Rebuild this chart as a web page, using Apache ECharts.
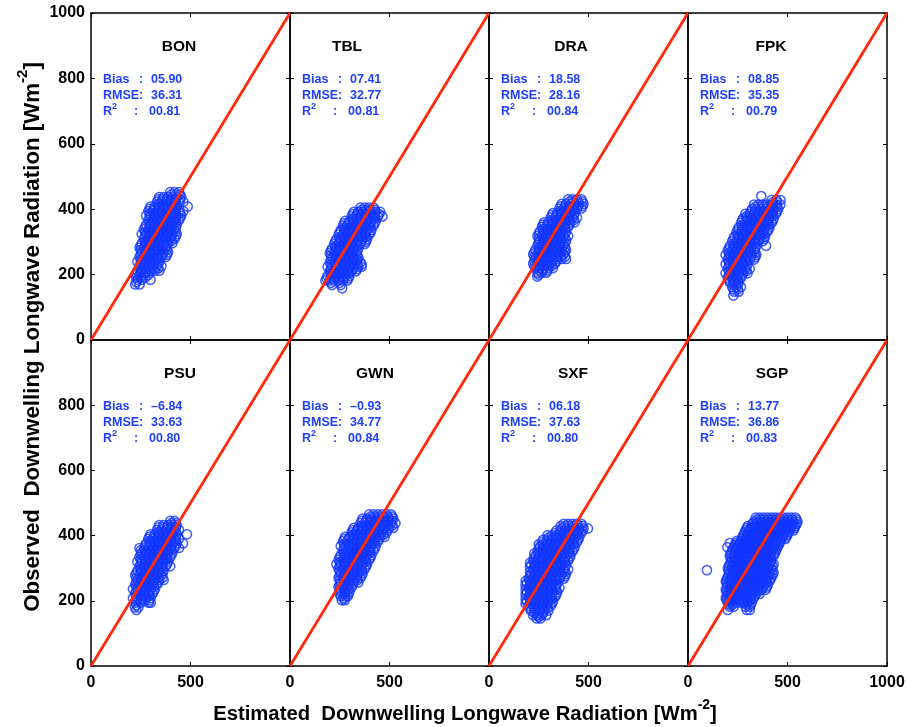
<!DOCTYPE html>
<html>
<head>
<meta charset="utf-8">
<script src="https://cdn.jsdelivr.net/npm/echarts@6/dist/echarts.min.js"></script>
<style>
  html, body { margin: 0; padding: 0; background: #fff; }
  #chart { width: 908px; height: 727px; }
</style>
</head>
<body>
<div id="chart"></div>
<script>
// ---- station statistics ----
const stations = ['BON', 'TBL', 'DRA', 'FPK', 'PSU', 'GWN', 'SXF', 'SGP'];
const bias = [5.90, 7.41, 18.58, 8.85, -6.84, -0.93, 6.18, 13.77];
const rmse = [36.31, 32.77, 28.16, 35.35, 33.63, 34.77, 37.63, 36.86];
const r2   = [0.81, 0.81, 0.84, 0.79, 0.80, 0.84, 0.80, 0.83];

// ---- axis ticks ----
const xTicks = [0, 500, 1000];
const yTicks = [0, 200, 400, 600, 800, 1000];

// 1:1 reference line
const oneToOne = [[0, 0], [1000, 1000]];

// ---- scatter samples: each row is [observed, estimated, estimated, ...] ----
const bonRows = [
  [452, 398, 420, 442], [445, 404, 426, 448],
  [437, 343, 365, 387, 409, 431, 453], [430, 338, 360, 382, 404, 426, 448],
  [423, 332, 354, 376, 398, 420, 442, 464], [416, 338, 360, 382, 404, 426],
  [408, 299, 321, 343, 365, 387, 409, 431, 486], [401, 294, 316, 338, 360, 382, 404, 426],
  [394, 288, 310, 332, 354, 376, 398, 420, 442, 464], [387, 294, 316, 338, 360, 382, 404, 426, 448],
  [380, 277, 299, 321, 343, 365, 387, 409, 431, 453], [373, 294, 316, 338, 360, 382, 404, 426, 448],
  [366, 288, 310, 332, 354, 376, 398, 420, 442], [359, 294, 316, 338, 360, 382, 404, 426],
  [352, 277, 299, 321, 343, 365, 387, 409, 431], [345, 272, 294, 316, 338, 360, 382, 404, 426],
  [338, 266, 288, 310, 332, 354, 376, 398, 420], [331, 272, 294, 316, 338, 360, 382, 404, 426],
  [324, 255, 277, 299, 321, 343, 365, 387, 409, 431], [317, 272, 294, 316, 338, 360, 382, 404, 426],
  [310, 266, 288, 310, 332, 354, 376, 398, 420], [303, 272, 294, 316, 338, 360, 382, 404],
  [296, 255, 277, 299, 321, 343, 365, 387, 409], [289, 250, 272, 294, 316, 338, 360, 382],
  [282, 244, 266, 288, 310, 332, 354, 376], [275, 250, 272, 294, 316, 338, 360, 382],
  [268, 255, 277, 299, 321, 343, 365, 387], [261, 250, 272, 294, 316, 338, 360, 382],
  [254, 244, 266, 288, 310, 332, 354, 376], [247, 250, 272, 294, 316, 338],
  [240, 233, 255, 277, 299, 321, 343], [233, 250, 272, 294, 316, 338],
  [226, 244, 266, 288, 310, 332, 354], [219, 250, 272, 294, 316, 338],
  [212, 233, 255, 277, 299, 321, 343], [205, 228, 250, 272, 294],
  [198, 222, 244, 266, 288], [191, 228, 250, 272],
  [184, 233, 255, 299], [177, 228],
  [170, 222, 244]
];
const tblRows = [
  [405, 354, 376, 398, 420], [398, 360, 382, 404, 426],
  [392, 321, 343, 365, 387, 409, 431, 453], [385, 316, 338, 360, 382, 404, 426, 448],
  [378, 310, 332, 354, 376, 398, 420, 442, 464], [371, 316, 338, 360, 382, 404, 426],
  [364, 277, 299, 321, 343, 365, 387, 409, 431], [357, 272, 294, 316, 338, 360, 382, 404, 426],
  [350, 266, 288, 310, 332, 354, 376, 398, 420], [343, 272, 294, 316, 338, 360, 382, 404],
  [336, 255, 277, 299, 321, 343, 365, 387, 409], [329, 250, 272, 294, 316, 338, 360, 382, 404],
  [322, 244, 266, 288, 310, 332, 354, 376, 398], [315, 250, 272, 294, 316, 338, 360, 382],
  [308, 233, 255, 277, 299, 321, 343, 365, 387], [301, 228, 250, 272, 294, 316, 338, 360, 382],
  [294, 222, 244, 266, 288, 310, 332, 354, 376], [287, 228, 250, 272, 294, 316, 338],
  [280, 211, 233, 255, 277, 299, 321, 343], [273, 206, 228, 250, 272, 294, 316, 338],
  [266, 200, 222, 244, 266, 288, 310, 332], [259, 206, 228, 250, 272, 294, 316, 338],
  [252, 211, 233, 255, 277, 299, 321, 343], [245, 206, 228, 250, 272, 294, 316, 338],
  [238, 200, 222, 244, 266, 288, 310, 332, 354], [231, 206, 228, 250, 272, 294, 316, 338, 360],
  [224, 189, 211, 233, 255, 277, 299, 321, 343, 360], [217, 206, 228, 250, 272, 294, 316, 338],
  [210, 200, 222, 244, 266, 288, 310, 332], [203, 206, 228, 250, 272, 294],
  [196, 189, 211, 233, 255, 277, 299], [189, 184, 206, 228, 250, 272, 294],
  [182, 178, 200, 222, 244, 266, 288], [175, 206, 250],
  [168, 211, 255], [158, 262]
];
const draRows = [
  [430, 398, 420, 442, 464], [423, 404, 426, 448, 470],
  [416, 365, 387, 409, 431, 453, 475], [409, 360, 382, 404, 426, 448, 470],
  [402, 354, 376, 398, 420, 442, 464], [395, 360, 382, 404, 426],
  [388, 321, 343, 365, 387, 409, 431], [381, 316, 338, 360, 382, 404, 426],
  [374, 310, 332, 354, 376, 398, 420, 442], [367, 316, 338, 360, 382, 404, 426],
  [360, 277, 299, 321, 343, 365, 387, 409, 431], [353, 272, 294, 316, 338, 360, 382, 404],
  [346, 266, 288, 310, 332, 354, 376, 398], [339, 272, 294, 316, 338, 360, 382],
  [332, 255, 277, 299, 321, 343, 365, 387], [325, 250, 272, 294, 316, 338, 360, 382],
  [318, 244, 266, 288, 310, 332, 354, 376, 398], [311, 250, 272, 294, 316, 338, 360, 382],
  [304, 255, 277, 299, 321, 343, 365, 387], [297, 250, 272, 294, 316, 338, 360, 382],
  [290, 244, 266, 288, 310, 332, 354, 376], [283, 250, 272, 294, 316, 338, 360, 382],
  [276, 233, 255, 277, 299, 321, 343, 365, 387], [269, 228, 250, 272, 294, 316, 338, 360, 382],
  [262, 222, 244, 266, 288, 310, 332, 354, 376], [255, 228, 250, 272, 294, 316, 338, 360, 382],
  [248, 233, 255, 277, 299, 321, 343, 365, 387], [241, 228, 250, 272, 294, 316, 338],
  [234, 222, 244, 266, 288, 310, 332], [227, 228, 250, 272, 294, 316],
  [220, 233, 255, 277, 299, 321], [213, 250, 272, 294],
  [206, 244, 266, 288], [200, 250],
  [194, 243]
];
const fpkRows = [
  [440, 368],
  [428, 420, 445, 465], [421, 426, 448],
  [414, 332, 354, 376, 398, 420, 442, 464], [407, 338, 360, 382, 404, 426, 448],
  [400, 321, 343, 365, 387, 409, 431, 453], [393, 316, 338, 360, 382, 404, 426, 448],
  [386, 288, 310, 332, 354, 376, 398, 420, 442], [379, 294, 316, 338, 360, 382, 404, 426],
  [372, 277, 299, 321, 343, 365, 387, 409, 431], [365, 272, 294, 316, 338, 360, 382, 404, 426],
  [358, 266, 288, 310, 332, 354, 376, 398, 420], [351, 272, 294, 316, 338, 360, 382, 404],
  [344, 255, 277, 299, 321, 343, 365, 387, 409], [337, 250, 272, 294, 316, 338, 360, 382, 404],
  [330, 244, 266, 288, 310, 332, 354, 376, 398], [323, 250, 272, 294, 316, 338, 360, 382],
  [316, 233, 255, 277, 299, 321, 343, 365, 387], [309, 228, 250, 272, 294, 316, 338, 360, 382],
  [302, 222, 244, 266, 288, 310, 332, 354, 376], [295, 228, 250, 272, 294, 316, 338],
  [288, 211, 233, 255, 277, 299, 321, 343, 392], [281, 206, 228, 250, 272, 294, 316, 338],
  [274, 200, 222, 244, 266, 288, 310, 332], [267, 206, 228, 250, 272, 294, 316, 338],
  [260, 189, 211, 233, 255, 277, 299, 321, 343], [253, 206, 228, 250, 272, 294, 316, 338],
  [246, 200, 222, 244, 266, 288, 310, 332], [239, 206, 228, 250, 272, 294],
  [232, 189, 211, 233, 255, 277, 299], [225, 206, 228, 250, 272, 294],
  [218, 200, 222, 244, 266, 288, 310], [211, 206, 228, 250, 272, 294],
  [204, 189, 211, 233, 255, 277, 299], [197, 206, 228, 250, 272],
  [190, 200, 222, 244, 266], [183, 206, 228, 250],
  [176, 211, 233, 255], [169, 228, 250],
  [162, 222, 244, 266], [155, 228, 250],
  [148, 233, 255], [136, 228]
];
const psuRows = [
  [445, 398, 420], [438, 404, 426],
  [432, 343, 365, 387, 409, 431], [425, 338, 360, 382, 404, 426],
  [418, 332, 354, 376, 398, 420, 442], [411, 338, 360, 382, 404, 426],
  [404, 299, 321, 343, 365, 387, 409, 431, 482], [397, 294, 316, 338, 360, 382, 404, 426],
  [390, 288, 310, 332, 354, 376, 398, 420, 442], [383, 294, 316, 338, 360, 382, 404, 426],
  [376, 277, 299, 321, 343, 365, 387, 409, 431, 462], [369, 272, 294, 316, 338, 360, 382, 404, 426],
  [362, 244, 266, 288, 310, 332, 354, 376, 398, 420, 442], [355, 250, 272, 294, 316, 338, 360, 382, 404],
  [348, 255, 277, 299, 321, 343, 365, 387, 409], [341, 250, 272, 294, 316, 338, 360, 382, 404],
  [334, 244, 266, 288, 310, 332, 354, 376, 398], [327, 250, 272, 294, 316, 338, 360, 382],
  [320, 233, 255, 277, 299, 321, 343, 365, 387], [313, 250, 272, 294, 316, 338, 360, 382],
  [306, 244, 266, 288, 310, 332, 354, 376, 398], [299, 250, 272, 294, 316, 338, 360],
  [292, 233, 255, 277, 299, 321, 343, 365], [285, 228, 250, 272, 294, 316, 338, 360],
  [278, 222, 244, 266, 288, 310, 332, 354], [271, 228, 250, 272, 294, 316, 338, 360],
  [264, 233, 255, 277, 299, 321, 343, 365], [257, 228, 250, 272, 294, 316, 338],
  [250, 222, 244, 266, 288, 310, 332], [243, 228, 250, 272, 294, 316],
  [236, 211, 233, 255, 277, 299, 321], [229, 228, 250, 272, 294, 316],
  [222, 222, 244, 266, 288, 310], [215, 228, 250, 272, 294],
  [208, 211, 233, 255, 277, 299], [201, 228, 250, 272, 294],
  [194, 225, 250, 290, 300], [187, 228],
  [180, 220, 238], [172, 228]
];
const gwnRows = [
  [465, 398, 420, 442, 464, 486, 508], [458, 404, 426, 448, 470, 492, 514],
  [452, 365, 387, 409, 431, 453, 475, 497, 519], [445, 360, 382, 404, 426, 448, 470, 492, 514],
  [438, 354, 376, 398, 420, 442, 464, 486, 508, 530], [431, 360, 382, 404, 426, 448, 470, 492, 514],
  [424, 321, 343, 365, 387, 409, 431, 453, 475, 497, 519], [417, 316, 338, 360, 382, 404, 426, 448, 470, 492],
  [410, 310, 332, 354, 376, 398, 420, 442, 464, 486], [403, 316, 338, 360, 382, 404, 426, 448, 470],
  [396, 277, 299, 321, 343, 365, 387, 409, 431, 453, 475], [389, 272, 294, 316, 338, 360, 382, 404, 426, 448],
  [382, 266, 288, 310, 332, 354, 376, 398, 420, 442], [375, 272, 294, 316, 338, 360, 382, 404, 426],
  [368, 255, 277, 299, 321, 343, 365, 387, 409, 431], [361, 272, 294, 316, 338, 360, 382, 404, 426],
  [354, 266, 288, 310, 332, 354, 376, 398, 420], [347, 272, 294, 316, 338, 360, 382, 404],
  [340, 255, 277, 299, 321, 343, 365, 387, 409], [333, 250, 272, 294, 316, 338, 360, 382, 404],
  [326, 244, 266, 288, 310, 332, 354, 376, 398], [319, 250, 272, 294, 316, 338, 360, 382],
  [312, 233, 255, 277, 299, 321, 343, 365, 387], [305, 250, 272, 294, 316, 338, 360, 382],
  [298, 244, 266, 288, 310, 332, 354, 376], [291, 250, 272, 294, 316, 338, 360],
  [284, 255, 277, 299, 321, 343, 365], [277, 250, 272, 294, 316, 338, 360],
  [270, 244, 266, 288, 310, 332, 354], [263, 250, 272, 294, 316, 338],
  [256, 255, 277, 299, 321, 343], [249, 250, 272, 294, 316],
  [242, 244, 266, 288, 310], [235, 250, 272, 294],
  [228, 255, 277, 299], [221, 250, 272, 294],
  [214, 256, 278, 290], [208, 272],
  [202, 260, 275]
];
const sxfRows = [
  [436, 376, 398, 420, 442, 464], [429, 360, 382, 404, 426, 448, 470],
  [422, 365, 387, 409, 431, 453, 475, 497], [415, 338, 360, 382, 404, 426, 448, 470],
  [408, 332, 354, 376, 398, 420, 442, 464], [401, 294, 316, 338, 360, 382, 404, 426, 448],
  [394, 299, 321, 343, 365, 387, 409, 431, 453], [387, 272, 294, 316, 338, 360, 382, 404, 426, 448],
  [380, 266, 288, 310, 332, 354, 376, 398, 420, 442], [373, 250, 272, 294, 316, 338, 360, 382, 404, 426],
  [366, 255, 277, 299, 321, 343, 365, 387, 409, 431], [359, 250, 272, 294, 316, 338, 360, 382, 404, 426],
  [352, 244, 266, 288, 310, 332, 354, 376, 398, 420], [345, 228, 250, 272, 294, 316, 338, 360, 382, 404],
  [338, 233, 255, 277, 299, 321, 343, 365, 387, 409], [331, 228, 250, 272, 294, 316, 338, 360, 382, 404],
  [324, 222, 244, 266, 288, 310, 332, 354, 376, 398], [317, 206, 228, 250, 272, 294, 316, 338, 360, 382],
  [310, 211, 233, 255, 277, 299, 321, 343, 365, 387], [303, 206, 228, 250, 272, 294, 316, 338, 360, 382],
  [296, 222, 244, 266, 288, 310, 332, 354, 376, 398], [289, 206, 228, 250, 272, 294, 316, 338, 360, 382],
  [282, 211, 233, 255, 277, 299, 321, 343, 365, 387], [275, 206, 228, 250, 272, 294, 316, 338, 360, 382],
  [268, 200, 222, 244, 266, 288, 310, 332, 354, 376], [261, 184, 206, 228, 250, 272, 294, 316, 338],
  [254, 189, 211, 233, 255, 277, 299, 321, 343], [247, 184, 206, 228, 250, 272, 294, 316, 338],
  [240, 200, 222, 244, 266, 288, 310, 332, 354], [233, 184, 206, 228, 250, 272, 294, 316, 338],
  [226, 189, 211, 233, 255, 277, 299, 321, 343], [219, 184, 206, 228, 250, 272, 294, 316, 338],
  [212, 200, 222, 244, 266, 288, 310, 332], [205, 184, 206, 228, 250, 272, 294, 316],
  [198, 189, 211, 233, 255, 277, 299, 321], [191, 184, 206, 228, 250, 272, 294, 316],
  [184, 200, 222, 244, 266, 288, 310], [177, 206, 228, 250, 272, 294],
  [170, 211, 233, 255, 277, 299], [163, 228, 250, 272],
  [156, 222, 244, 266, 288], [151, 250],
  [146, 240, 258]
];
const sgpRows = [
  [455, 340, 360, 380, 400, 420, 440, 460, 480, 500, 520, 540],
  [449, 345, 365, 385, 405, 425, 445, 465, 485, 505, 525, 545],
  [442, 330, 350, 370, 390, 410, 430, 450, 470, 490, 510, 530, 550],
  [436, 325, 345, 365, 385, 405, 425, 445, 465, 485, 505, 525, 545],
  [429, 300, 320, 340, 360, 380, 400, 420, 440, 460, 480, 500, 520, 540],
  [423, 295, 315, 335, 355, 375, 395, 415, 435, 455, 475, 495, 515, 535],
  [416, 290, 310, 330, 350, 370, 390, 410, 430, 450, 470, 490, 510, 530],
  [410, 285, 305, 325, 345, 365, 385, 405, 425, 445, 465, 485, 505],
  [403, 280, 300, 320, 340, 360, 380, 400, 420, 440, 460, 480, 500],
  [397, 275, 295, 315, 335, 355, 375, 395, 415, 435, 455, 475, 495],
  [390, 270, 290, 310, 330, 350, 370, 390, 410, 430, 450, 470, 490],
  [384, 245, 265, 285, 305, 325, 345, 365, 385, 405, 425, 445, 465],
  [377, 210, 240, 260, 280, 300, 320, 340, 360, 380, 400, 420, 440, 460],
  [371, 235, 255, 275, 295, 315, 335, 355, 375, 395, 415, 435, 455],
  [364, 198, 230, 250, 270, 290, 310, 330, 350, 370, 390, 410, 430, 450],
  [358, 225, 245, 265, 285, 305, 325, 345, 365, 385, 405, 425, 445],
  [351, 220, 240, 260, 280, 300, 320, 340, 360, 380, 400, 420, 440],
  [345, 215, 235, 255, 275, 295, 315, 335, 355, 375, 395, 415, 435],
  [338, 210, 230, 250, 270, 290, 310, 330, 350, 370, 390, 410, 430],
  [332, 215, 235, 255, 275, 295, 315, 335, 355, 375, 395, 415],
  [325, 220, 240, 260, 280, 300, 320, 340, 360, 380, 400, 420],
  [319, 215, 235, 255, 275, 295, 315, 335, 355, 375, 395, 415],
  [312, 210, 230, 250, 270, 290, 310, 330, 350, 370, 390, 410, 430],
  [306, 205, 225, 245, 265, 285, 305, 325, 345, 365, 385, 405, 425],
  [299, 200, 220, 240, 260, 280, 300, 320, 340, 360, 380, 400, 420],
  [294, 95],
  [293, 205, 225, 245, 265, 285, 305, 325, 345, 365, 385, 405, 425],
  [286, 210, 230, 250, 270, 290, 310, 330, 350, 370, 390, 410, 430],
  [280, 205, 225, 245, 265, 285, 305, 325, 345, 365, 385, 405, 425],
  [273, 200, 220, 240, 260, 280, 300, 320, 340, 360, 380, 400, 420],
  [267, 195, 215, 235, 255, 275, 295, 315, 335, 355, 375, 395, 415],
  [260, 190, 210, 230, 250, 270, 290, 310, 330, 350, 370, 390, 410],
  [254, 195, 215, 235, 255, 275, 295, 315, 335, 355, 375, 395],
  [247, 200, 220, 240, 260, 280, 300, 320, 340, 360, 380, 400],
  [241, 195, 215, 235, 255, 275, 295, 315, 335, 355, 375, 395],
  [234, 190, 210, 230, 250, 270, 290, 310, 330, 350, 370, 390],
  [228, 195, 215, 235, 255, 275, 295, 315, 335, 355],
  [221, 200, 220, 240, 260, 280, 300, 320, 340, 360],
  [215, 195, 215, 235, 255, 275, 295, 315, 335],
  [208, 190, 210, 230, 250, 270, 290, 310, 330],
  [202, 195, 215, 235, 255, 275, 295, 315],
  [195, 200, 220, 240, 260, 280, 300, 320],
  [189, 205, 225, 295, 315],
  [182, 210, 230, 290, 310],
  [172, 200, 295, 310]
];
const stationRows = [bonRows, tblRows, draRows, fpkRows, psuRows, gwnRows, sxfRows, sgpRows];

// ---- layout ----
const FONT = '"Liberation Sans", Arial, Helvetica, sans-serif';
const PLOT_LEFT = 91, CELL_W = 199;
const ROW_TOP = [13, 340], ROW_H = [327, 326];
const TITLE_DX = [88, 57, 82, 83, 89, 85, 84, 84];
const POINT_COLOR = '#1236ff';
const TEXT_BLUE = '#1f3fff';
const LINE_RED = '#ff2a0a';

function rowsToPoints(rows) {
  const pts = [];
  rows.forEach(r => { for (let k = 1; k < r.length; k++) pts.push([r[k], r[0]]); });
  return pts;
}
function fmt(v) {
  if (v < 0) return '\u2013' + Math.abs(v).toFixed(2);
  const s = v.toFixed(2);
  return s.length < 5 ? '0'.repeat(5 - s.length) + s : s;
}

const grids = [], xAxes = [], yAxes = [], series = [], graphics = [];
const axisLine = { show: true, onZero: false, lineStyle: { color: '#000', width: 1.5 } };
const tick = { show: true, inside: true, length: 4, lineStyle: { color: '#000', width: 1 } };
const labelStyle = { color: '#000', fontWeight: 'bold', fontSize: 16, fontFamily: FONT, formatter: v => String(v) };

stations.forEach((name, i) => {
  const col = i % 4, row = Math.floor(i / 4);
  const L = PLOT_LEFT + CELL_W * col, T = ROW_TOP[row];
  grids.push({ left: L, top: T, width: CELL_W, height: ROW_H[row], containLabel: false });

  const xBase = { gridIndex: i, type: 'value', min: xTicks[0], max: xTicks[xTicks.length - 1],
    interval: xTicks[1] - xTicks[0], splitLine: { show: false }, axisLine, axisTick: tick };
  xAxes.push(Object.assign({}, xBase, { position: 'bottom',
    axisLabel: Object.assign({ show: row === 1, margin: 9, showMaxLabel: col === 3, showMinLabel: true }, labelStyle) }));
  xAxes.push(Object.assign({}, xBase, { position: 'top', axisLabel: { show: false } }));

  const yBase = { gridIndex: i, type: 'value', min: yTicks[0], max: yTicks[yTicks.length - 1],
    interval: yTicks[1] - yTicks[0], splitLine: { show: false }, axisLine, axisTick: tick };
  yAxes.push(Object.assign({}, yBase, { position: 'left',
    axisLabel: Object.assign({ show: col === 0, margin: 6, showMaxLabel: row === 0, showMinLabel: true }, labelStyle) }));
  yAxes.push(Object.assign({}, yBase, { position: 'right', axisLabel: { show: false } }));

  series.push({
    type: 'scatter', xAxisIndex: 2 * i, yAxisIndex: 2 * i,
    data: rowsToPoints(stationRows[i]),
    symbol: 'circle', symbolSize: 9.2, silent: true, z: 2, large: false,
    itemStyle: { color: 'rgba(0,0,0,0)', borderColor: POINT_COLOR, borderWidth: 1.5 }
  });
  series.push({
    type: 'line', xAxisIndex: 2 * i, yAxisIndex: 2 * i, data: oneToOne,
    symbol: 'none', silent: true, z: 5,
    lineStyle: { color: LINE_RED, width: 2.8 }
  });

  // station name
  graphics.push({ type: 'text', x: L + TITLE_DX[i], y: T + 34, silent: true,
    style: { text: name, fill: '#000', font: 'bold 15.5px ' + FONT, align: 'center', verticalAlign: 'middle' } });

  // statistics block
  const sFont = 'bold 12.5px ' + FONT;
  const add = (txt, dx, dy, align, font) => graphics.push({ type: 'text', x: L + dx, y: T + dy, silent: true,
    style: { text: txt, fill: TEXT_BLUE, font: font || sFont, align: align || 'left', verticalAlign: 'middle' } });
  add('Bias', 12, 67);
  add(':', 50, 67, 'center');
  add(fmt(bias[i]), 60, 67);
  add('RMSE:', 12, 83);
  add(fmt(rmse[i]), 60, 83);
  add('R', 12, 99);
  add('2', 21, 94, 'left', 'bold 9px ' + FONT);
  add(':', 45, 99, 'center');
  add(fmt(r2[i]), 58, 99);
});

// axis titles
const titleRich = (size) => ({
  b: { font: 'bold ' + size + 'px ' + FONT, fill: '#000', verticalAlign: 'bottom', lineHeight: size + 6 },
  s: { font: 'bold ' + Math.round(size * 0.68) + 'px ' + FONT, fill: '#000', verticalAlign: 'top', lineHeight: size + 6 }
});
graphics.push({ type: 'text', x: 465, y: 711, silent: true,
  style: { text: '{b|Estimated  Downwelling Longwave Radiation [Wm}{s|-2}{b|]}', rich: titleRich(20.3),
    align: 'center', verticalAlign: 'middle' } });
graphics.push({ type: 'text', x: 30, y: 337, rotation: Math.PI / 2, silent: true,
  style: { text: '{b|Observed  Downwelling Longwave Radiation [Wm}{s|-2}{b|]}', rich: titleRich(22.3),
    align: 'center', verticalAlign: 'middle' } });

const chart = echarts.init(document.getElementById('chart'), null, { renderer: 'canvas' });
chart.setOption({
  backgroundColor: '#fff',
  animation: false,
  grid: grids,
  xAxis: xAxes,
  yAxis: yAxes,
  series: series,
  graphic: graphics
});
</script>
</body>
</html>
